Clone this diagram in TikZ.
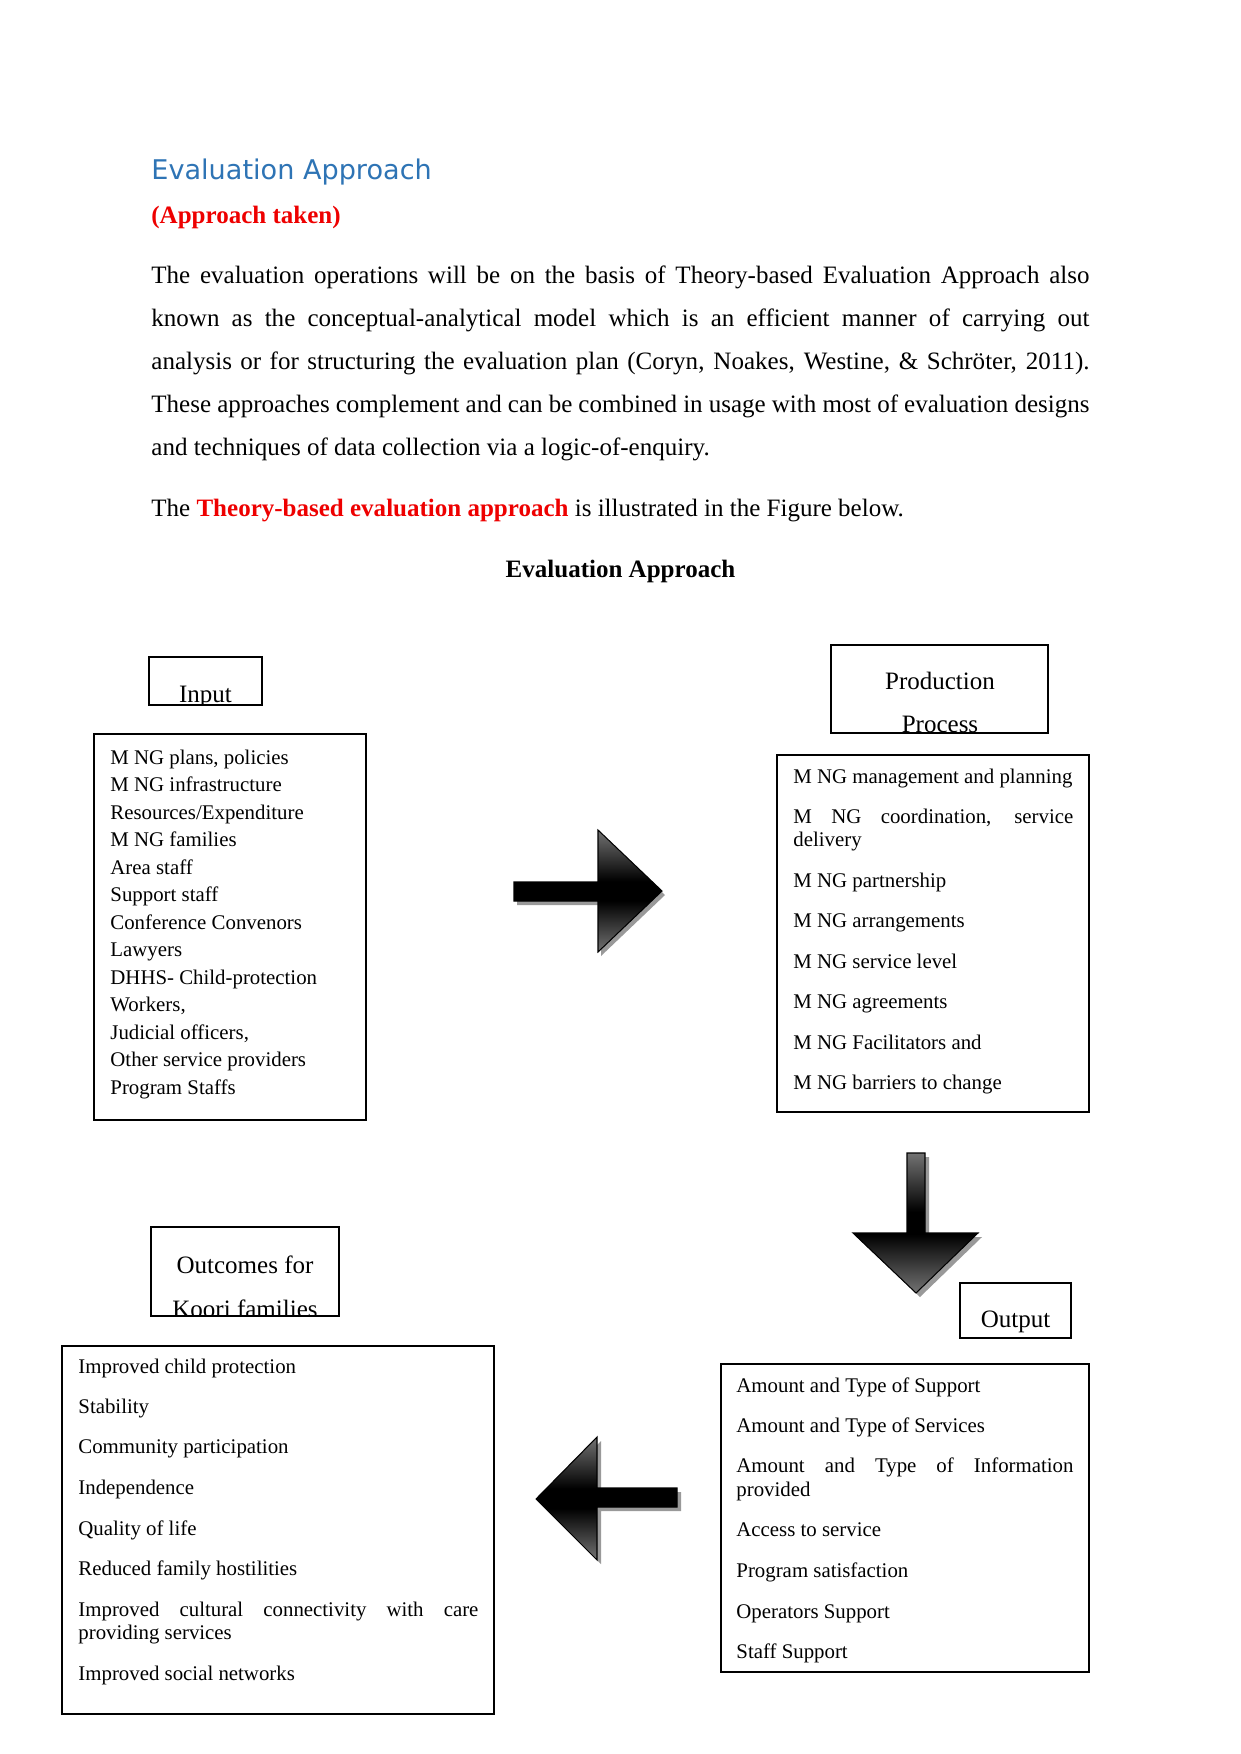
\documentclass[tikz,border=0pt]{standalone}
\usepackage{fontspec}
\setmainfont{Liberation Serif}
\newfontfamily\headfont{DejaVu Sans}
\usetikzlibrary{fit}
\definecolor{headblue}{RGB}{46,116,181}
\definecolor{hired}{RGB}{238,0,0}
\pgfdeclareverticalshading{arrowsh}{100bp}{color(0bp)=(black!55); color(25bp)=(black!55); color(46bp)=(black); color(54bp)=(black); color(75bp)=(black!55); color(100bp)=(black!55)}
\begin{document}
\begin{tikzpicture}[x=0.4797pt,y=-0.4797pt,
  body/.style={anchor=base west, inner sep=0pt, font=\fontsize{12}{14}\selectfont},
  item/.style={anchor=base west, inner sep=0pt, font=\fontsize{10}{12}\selectfont},
  lbl/.style={anchor=base, inner sep=0pt, font=\fontsize{12}{14}\selectfont},
  listbox/.style={draw, line width=1pt, inner sep=0pt},
  lblbox/.style={draw, line width=0.7pt, inner sep=0pt},
  bigarrow/.style={draw=black, line width=0.5pt, shading=arrowsh},
  arrowshadow/.style={fill=black!40, draw=none}]
\fill[white] (0,0) rectangle (1241,1754);
\useasboundingbox (0,0) rectangle (1241,1754);

% heading and body text
\node[anchor=base west, inner sep=0pt, font=\headfont\fontsize{13}{15}\selectfont, text=headblue] (head) at (151,179) {Evaluation Approach};
\node[body, font=\fontsize{12}{14}\selectfont\bfseries, text=hired] (sub) at (151,223) {(Approach taken)};
\node[body] (l1) at (151,283) {\makebox[450pt][s]{The evaluation operations will be on the basis of Theory-based Evaluation Approach also}};
\node[body] (l2) at (151,326) {\makebox[450pt][s]{known as the conceptual-analytical model which is an efficient manner of carrying out}};
\node[body] (l3) at (151,369) {\makebox[450pt][s]{analysis or for structuring the evaluation plan (Coryn, Noakes, Westine, \& Schröter, 2011).}};
\node[body] (l4) at (151,412) {\makebox[450pt][s]{These approaches complement and can be combined in usage with most of evaluation designs}};
\node[body] (l5) at (151,455) {and techniques of data collection via a logic-of-enquiry.};
\node[body] (l6) at (151,516) {The \textbf{\color{hired}Theory-based evaluation approach} is illustrated in the Figure below.};
\node[anchor=base, inner sep=0pt, font=\fontsize{12}{14}\selectfont\bfseries] (title) at (620.5,577) {Evaluation Approach};

% label boxes (text clipped at the box bottom)
\begin{scope}
\clip (149,657) rectangle (262,705);
\node[lbl] (inputlbl) at (205.5,702) {Input};
\end{scope}
\node[lblbox, fit={(149,657) (262,705)}] (inputbox) {};

\begin{scope}
\clip (831,645) rectangle (1048,733);
\node[lbl] (prodlbl1) at (940,689) {Production};
\node[lbl] (prodlbl2) at (940,732) {Process};
\end{scope}
\node[lblbox, fit={(831,645) (1048,733)}] (prodbox) {};

\node[lbl] (outputlbl) at (1015.5,1327) {Output};
\node[lblbox, line width=0.6pt, fit={(960,1283) (1071,1338)}] (outputbox) {};

\begin{scope}
\clip (151,1227) rectangle (339,1316);
\node[lbl] (outclbl1) at (245,1273) {Outcomes for};
\node[lbl] (outclbl2) at (245,1317.5) {Koori families};
\end{scope}
\node[lblbox, fit={(151,1227) (339,1316)}] (outcbox) {};

% list boxes
\node[listbox, fit={(94,734) (366,1120)}] (inputlist) {};
\foreach \t [count=\i from 0] in {{M NG plans, policies},{M NG infrastructure},{Resources/Expenditure},{M NG families},{Area staff},{Support staff},{Conference Convenors},{Lawyers},{DHHS- Child-protection},{Workers,},{Judicial officers,},{Other service providers},{Program Staffs}}
  \node[item] (in\i) at (110,764+27.5*\i) {\t};

\node[listbox, fit={(777,755) (1089,1112)}] (prodlist) {};
\node[item] (p1) at (793,783) {M NG management and planning};
\node[item] (p2) at (793,823) {\makebox[134.3pt][s]{M NG coordination, service}};
\node[item] (p2b) at (793,846) {delivery};
\node[item] (p3) at (793,887) {M NG partnership};
\node[item] (p4) at (793,927.5) {M NG arrangements};
\node[item] (p5) at (793,968) {M NG service level};
\node[item] (p6) at (793,1008.5) {M NG agreements};
\node[item] (p7) at (793,1049) {M NG Facilitators and};
\node[item] (p8) at (793,1089.5) {M NG barriers to change};

\node[listbox, line width=0.9pt, fit={(721,1364) (1089,1672)}] (outputlist) {};
\node[item] (o1) at (736,1392) {Amount and Type of Support};
\node[item] (o2) at (736,1432) {Amount and Type of Services};
\node[item] (o3) at (736,1472) {\makebox[161.7pt][s]{Amount and Type of Information}};
\node[item] (o3b) at (736,1496) {provided};
\node[item] (o4) at (736,1536) {Access to service};
\node[item] (o5) at (736,1577) {Program satisfaction};
\node[item] (o6) at (736,1618) {Operators Support};
\node[item] (o7) at (736,1658) {Staff Support};

\node[listbox, line width=0.8pt, fit={(62,1346) (494,1714)}] (outclist) {};
\node[item] (c1) at (78,1373) {Improved child protection};
\node[item] (c2) at (78,1413) {Stability};
\node[item] (c3) at (78,1453) {Community participation};
\node[item] (c4) at (78,1494) {Independence};
\node[item] (c5) at (78,1535) {Quality of life};
\node[item] (c6) at (78,1575) {Reduced family hostilities};
\node[item] (c7) at (78,1616) {\makebox[191.9pt][s]{Improved cultural connectivity with care}};
\node[item] (c7b) at (78,1639) {providing services};
\node[item] (c8) at (78,1680) {Improved social networks};

% block arrows
\def\rarrow{(514,882) -- (598,882) -- (598,830) -- (662,891) -- (598,952) -- (598,901) -- (514,901) -- cycle}
\def\darrow{(907,1153) -- (925,1153) -- (925,1233) -- (978,1233) -- (916,1293) -- (853,1233) -- (907,1233) -- cycle}
\def\larrow{(536,1499) -- (597,1437) -- (597,1488) -- (677,1488) -- (677,1507) -- (597,1507) -- (597,1560) -- cycle}
\fill[arrowshadow, shift={(3,4)}] \rarrow;
\shadedraw[bigarrow] \rarrow;
\fill[arrowshadow, shift={(4,4)}] \darrow;
\shadedraw[bigarrow] \darrow;
\fill[arrowshadow, shift={(4,4)}] \larrow;
\shadedraw[bigarrow] \larrow;
\end{tikzpicture}
\end{document}
